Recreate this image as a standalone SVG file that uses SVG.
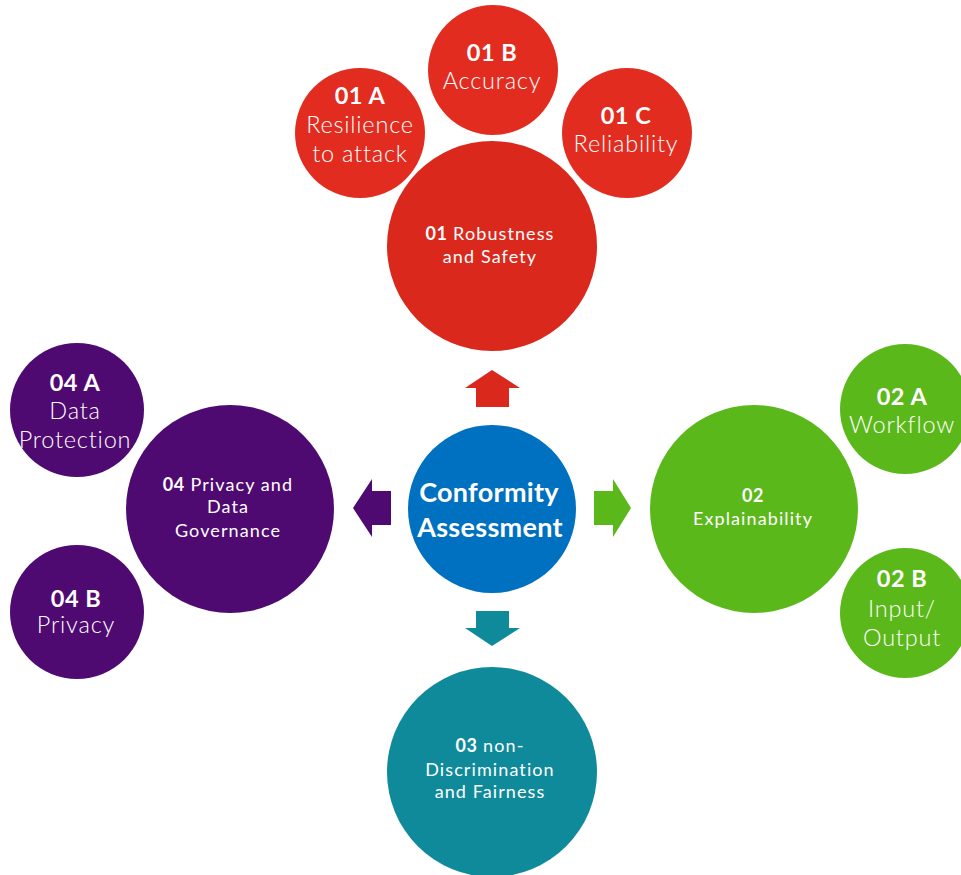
<svg xmlns="http://www.w3.org/2000/svg" width="961" height="875" viewBox="0 0 961 875">
  <style>
    text { font-family: "Lato", "Open Sans", "Liberation Sans", sans-serif; fill: #ffffff; text-anchor: middle; font-weight: 300; }
    .sub { font-size: 23.5px; letter-spacing: 0.8px; }
    .main { font-size: 18px; letter-spacing: 1.1px; font-weight: 400; }
    .num { font-weight: 700; letter-spacing: 0.5px; }
    .hub { font-size: 27px; font-weight: 700; letter-spacing: 0.3px; }
    .red-l { fill: #da291c; }
    .red-s { fill: #e22c1f; }
    .green { fill: #5bb81a; }
    .teal { fill: #0e8a9a; }
    .purple { fill: #4f0a72; }
    .blue { fill: #0070c0; }
  </style>

  <!-- arrows from the hub to each pillar -->
  <g id="connectors">
    <polygon class="red-l" points="492,370 520,388 509,388 509,407 476,407 476,388 465,388"/>
    <polygon class="teal" points="492,646 520,628 509,628 509,611 476,611 476,628 465,628"/>
    <polygon class="purple" points="353,508 372,479 372,491 391,491 391,525 372,525 372,537"/>
    <polygon class="green" points="631,508 613,479 613,491 594,491 594,525 613,525 613,537"/>
  </g>

  <g id="hub">
    <circle class="blue" cx="492" cy="509" r="84"/>
    <text class="hub" x="489" y="502">Conformity</text>
    <text class="hub" x="490" y="537">Assessment</text>
  </g>

  <!-- 01 Robustness and Safety -->
  <g id="n01">
    <circle class="red-l" cx="492" cy="246" r="105"/>
    <text class="main" x="490" y="240"><tspan class="num">01</tspan> Robustness</text>
    <text class="main" x="490" y="263">and Safety</text>
  </g>
  <g id="n01a">
    <circle class="red-s" cx="360" cy="133" r="65"/>
    <text class="sub num" x="360" y="104">01 A</text>
    <text class="sub" x="360" y="133">Resilience</text>
    <text class="sub" x="360" y="162">to attack</text>
  </g>
  <g id="n01b">
    <circle class="red-s" cx="493" cy="70" r="65"/>
    <text class="sub num" x="492" y="61">01 B</text>
    <text class="sub" x="492" y="89">Accuracy</text>
  </g>
  <g id="n01c">
    <circle class="red-s" cx="627" cy="133" r="65"/>
    <text class="sub num" x="626" y="124">01 C</text>
    <text class="sub" x="626" y="152">Reliability</text>
  </g>

  <!-- 02 Explainability -->
  <g id="n02">
    <circle class="green" cx="754" cy="509" r="104"/>
    <text class="main num" x="753" y="502">02</text>
    <text class="main" x="753" y="525">Explainability</text>
  </g>
  <g id="n02a">
    <circle class="green" cx="905" cy="409" r="65"/>
    <text class="sub num" x="902" y="405">02 A</text>
    <text class="sub" x="902" y="433">Workflow</text>
  </g>
  <g id="n02b">
    <circle class="green" cx="905" cy="613" r="65"/>
    <text class="sub num" x="902" y="587">02 B</text>
    <text class="sub" x="902" y="617">Input/</text>
    <text class="sub" x="902" y="646">Output</text>
  </g>

  <!-- 03 non-Discrimination and Fairness -->
  <g id="n03">
    <circle class="teal" cx="492" cy="772" r="105"/>
    <text class="main" x="490" y="752"><tspan class="num">03</tspan> non-</text>
    <text class="main" x="490" y="776">Discrimination</text>
    <text class="main" x="490" y="798">and Fairness</text>
  </g>

  <!-- 04 Privacy and Data Governance -->
  <g id="n04">
    <circle class="purple" cx="230" cy="509" r="104"/>
    <text class="main" x="228" y="491"><tspan class="num">04</tspan> Privacy and</text>
    <text class="main" x="228" y="513">Data</text>
    <text class="main" x="228" y="537">Governance</text>
  </g>
  <g id="n04a">
    <circle class="purple" cx="77" cy="410" r="67"/>
    <text class="sub num" x="75" y="391">04 A</text>
    <text class="sub" x="75" y="419">Data</text>
    <text class="sub" x="75" y="448">Protection</text>
  </g>
  <g id="n04b">
    <circle class="purple" cx="77" cy="612" r="67"/>
    <text class="sub num" x="76" y="607">04 B</text>
    <text class="sub" x="76" y="633">Privacy</text>
  </g>
</svg>
